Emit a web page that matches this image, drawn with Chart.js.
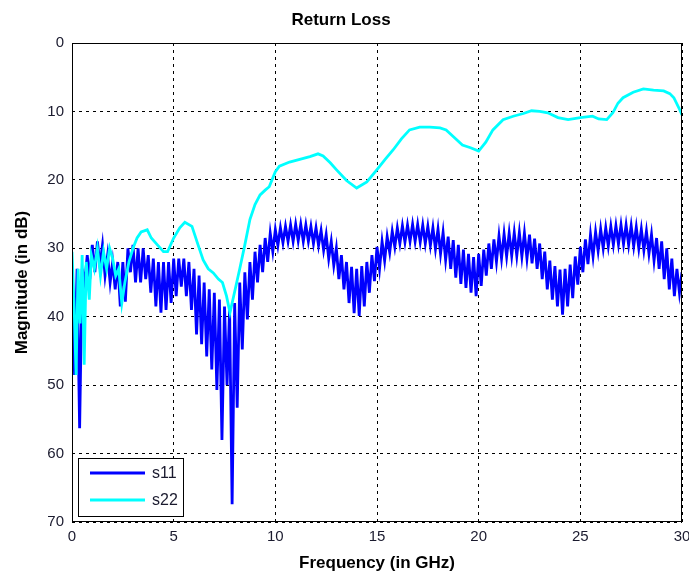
<!DOCTYPE html>
<html>
<head>
<meta charset="utf-8">
<script src="https://cdn.jsdelivr.net/npm/chart.js@4"></script>
<style>
  html, body { margin: 0; padding: 0; background: #fff; }
  #wrap { width: 689px; height: 577px; }
</style>
</head>
<body>
<div id="wrap"><canvas id="rl" width="689" height="577"></canvas></div>
<script>
// Return Loss — s11 / s22

const xTicks = [0, 5, 10, 15, 20, 25, 30];
const yTicks = [0, 10, 20, 30, 40, 50, 60, 70];

// s11 ripples: upper points at 0, 0.25, 0.5 ... 30 GHz,
// lower points half a step later (0.125, 0.375 ...)
const s11Step = 0.25;
const s11Upper = [
  35, 33, 33, 31,
  29.5, 29, 29.5, 31,
  32, 32, 32, 30,
  29.5, 30, 30, 31,
  31.5, 32, 32, 32,
  31.5, 31.5, 31.5, 32,
  33, 34, 35, 36,
  36.5, 37.5, 38.5, 39,
  38, 35, 33.5, 32,
  30.5, 29.5, 28.5, 27.8,
  27.3, 27, 26.8, 26.6,
  26.5, 26.5, 26.6, 26.8,
  27, 27.4, 28, 29,
  30, 31, 32, 32.7,
  33, 32.6, 32, 31,
  29.8, 29, 28.3, 27.5,
  27, 26.7, 26.6, 26.5,
  26.5, 26.6, 26.8, 27,
  27.2, 27.7, 28.3, 28.8,
  29.5, 30.2, 30.8, 31.3,
  30.8, 30.2, 29.3, 28.7,
  28.2, 27.9, 27.8, 27.7,
  27.7, 27.8, 28, 28.6,
  29.3, 30.5, 31.8, 32.6,
  33.1, 33, 32.4, 31.2,
  29.8, 28.7, 28, 27.6,
  27.2, 27, 26.8, 26.7,
  26.6, 26.6, 26.7, 26.9,
  27.2, 27.5, 28, 28.5,
  29, 30, 31.5, 33,
  33.5
];
const s11Lower = [
  48.5, 56.3, 35, 34.5,
  33.5, 32.5, 34, 35,
  36, 38.5, 37.8, 33.5,
  35, 35, 34.5, 36.5,
  38.5, 39.4, 39, 38,
  37, 35.6, 37, 39,
  42.6, 44, 45.8, 47.7,
  50.7, 58, 50, 67.4,
  53.3, 44.8, 40.4, 37.5,
  35, 33.5, 32, 30.5,
  29.6, 29.2, 29, 29,
  28.9, 29, 29, 29.3,
  29.6, 30.3, 31.5, 32.5,
  34.5, 36, 38, 39.5,
  39.9, 38.5, 36.5, 34.8,
  33, 31.8, 30.6, 29.8,
  29.3, 29.1, 29, 29,
  29.1, 29.3, 29.6, 30.1,
  30.8, 31.7, 33, 34.3,
  35.2, 35.8, 36.5, 37,
  35.5, 34, 33, 32,
  31.5, 31.2, 31.1, 31.1,
  31.2, 31.5, 32.2, 33,
  34.5, 36, 37.5, 38.5,
  39.7, 38.5, 37.3, 35.3,
  33.5, 32.3, 31.2, 30.4,
  30, 29.7, 29.5, 29.4,
  29.4, 29.5, 29.7, 30,
  30.3, 30.8, 31.8, 33,
  34.5, 36, 37, 36.5
];

const s22Freq = [
  0, 0.1, 0.2, 0.3, 0.4, 0.5, 0.6, 0.7, 0.85, 0.95,
  1.1, 1.25, 1.4, 1.55, 1.7, 1.85, 2, 2.15, 2.3, 2.45,
  2.6, 2.8, 3, 3.2, 3.4, 3.7, 3.9, 4.2, 4.5, 4.7,
  5, 5.3, 5.55, 5.9, 6.2, 6.45, 6.7, 6.95, 7.2, 7.4,
  7.6, 7.77, 7.95, 8.25, 8.5, 8.75, 9, 9.25, 9.5, 9.7,
  10, 10.2, 10.7, 11.2, 11.7, 12.1, 12.35, 12.7, 13, 13.5,
  14, 14.5, 15, 15.4, 15.8, 16.2, 16.6, 17.1, 17.6, 18.1,
  18.4, 18.8, 19.2, 19.6, 20, 20.35, 20.7, 21.2, 21.7, 22.2,
  22.6, 23, 23.4, 23.9, 24.4, 25, 25.6, 25.9, 26.3, 26.6,
  26.85, 27.1, 27.6, 28.1, 28.6, 29.1, 29.4, 29.6, 29.85, 30
];
const s22Mag = [
  30.5, 38, 48.5, 33, 41, 31, 47, 32, 37.5, 31,
  33, 30, 34, 30.5, 33, 30, 31.5, 34, 33, 38,
  35, 32, 30, 28.5, 27.6, 27.3, 28.5, 29.5, 30.5, 30.5,
  28.5, 27, 26.2, 26.8, 29.5, 31.7, 33, 33.6, 34.5, 35,
  37, 39.4, 37, 33, 29.5, 25.8, 23.6, 22.2, 21.5, 21,
  18.8, 18, 17.4, 17, 16.6, 16.2, 16.5, 17.5, 18.5, 20.1,
  21.2, 20.3, 18.5, 17, 15.6, 14, 12.7, 12.3, 12.3, 12.4,
  12.7, 13.8, 14.9, 15.3, 15.8, 14.5, 12.7, 11.2, 10.7, 10.3,
  9.9, 10, 10.2, 10.9, 11.2, 10.9, 10.7, 11.1, 11.2, 10.2,
  8.8, 8, 7.2, 6.7, 6.9, 7, 7.4, 8, 9.5, 10.5
];

const s11Points = [];
s11Upper.forEach((v, i) => {
  s11Points.push({ x: i * s11Step, y: v });
  if (i < s11Lower.length) s11Points.push({ x: i * s11Step + s11Step / 2, y: s11Lower[i] });
});
const s22Points = s22Freq.map((f, i) => ({ x: f, y: s22Mag[i] }));

const FONT = "'Liberation Sans', Arial, sans-serif";
const PLOT = { left: 72, right: 682, top: 43, bottom: 522 };

// box round the plot + legend in the lower left corner, matlab style
const boxAndLegend = {
  id: 'boxAndLegend',
  afterDraw(chart) {
    const ctx = chart.ctx;
    const a = chart.chartArea;
    ctx.save();
    ctx.strokeStyle = '#000';
    ctx.lineWidth = 1;
    ctx.setLineDash([]);
    ctx.strokeRect(a.left + 0.5, a.top + 0.5, a.right - a.left - 1, a.bottom - a.top - 1);

    const lx = a.left + 6, ly = a.bottom - 64, lw = 105, lh = 58;
    ctx.fillStyle = '#fff';
    ctx.fillRect(lx, ly, lw, lh);
    ctx.strokeRect(lx + 0.5, ly + 0.5, lw, lh);
    ctx.font = '16px ' + FONT;
    ctx.textBaseline = 'middle';
    chart.data.datasets.forEach((ds, i) => {
      const y = ly + 15 + i * 27;
      ctx.strokeStyle = ds.borderColor;
      ctx.lineWidth = ds.borderWidth;
      ctx.beginPath();
      ctx.moveTo(lx + 12, y);
      ctx.lineTo(lx + 67, y);
      ctx.stroke();
      ctx.fillStyle = '#1a1a2e';
      ctx.fillText(ds.label, lx + 74, y + 1);
    });
    ctx.restore();
  }
};

new Chart(document.getElementById('rl'), {
  type: 'line',
  data: {
    datasets: [
      { label: 's11', data: s11Points, borderColor: '#0000ff', borderWidth: 2.8, order: 1 },
      { label: 's22', data: s22Points, borderColor: '#00ffff', borderWidth: 2.8, order: 0 }
    ]
  },
  options: {
    responsive: false,
    animation: false,
    elements: { point: { radius: 0 }, line: { tension: 0 } },
    layout: { padding: { left: 0, right: 689 - PLOT.right, top: 0, bottom: 0 } },
    plugins: {
      legend: { display: false },
      tooltip: { enabled: false },
      title: {
        display: true,
        text: 'Return Loss',
        color: '#000',
        font: { family: FONT, size: 17, weight: 'bold' },
        padding: { top: 10, bottom: 12.6 }
      }
    },
    scales: {
      x: {
        type: 'linear',
        min: 0, max: 30,
        afterBuildTicks: s => { s.ticks = xTicks.map(v => ({ value: v })); },
        afterFit: s => { s.height = 577 - PLOT.bottom; s.paddingLeft = 0; s.paddingRight = 0; },
        ticks: { color: '#1a1a2e', font: { family: FONT, size: 15 }, padding: 6, maxRotation: 0 },
        grid: { color: '#000', drawTicks: false, tickLength: 0 },
        border: { color: '#000', dash: [3, 4], display: false },
        title: {
          display: true, text: 'Frequency (in GHz)', color: '#000',
          font: { family: FONT, size: 17, weight: 'bold' }, padding: { top: 0, bottom: 3 }
        }
      },
      y: {
        type: 'linear',
        reverse: true,
        min: 0, max: 70,
        afterBuildTicks: s => { s.ticks = yTicks.map(v => ({ value: v })); },
        afterFit: s => { s.width = PLOT.left; s.paddingTop = 0; s.paddingBottom = 0; },
        ticks: { color: '#1a1a2e', font: { family: FONT, size: 15 }, padding: 8 },
        grid: { color: '#000', drawTicks: false, tickLength: 0 },
        border: { color: '#000', dash: [3, 4], display: false },
        title: {
          display: true, text: 'Magnitude (in dB)', color: '#000',
          font: { family: FONT, size: 17, weight: 'bold' }, padding: { top: 12, bottom: 0 }
        }
      }
    }
  },
  plugins: [boxAndLegend]
});
</script>
</body>
</html>
